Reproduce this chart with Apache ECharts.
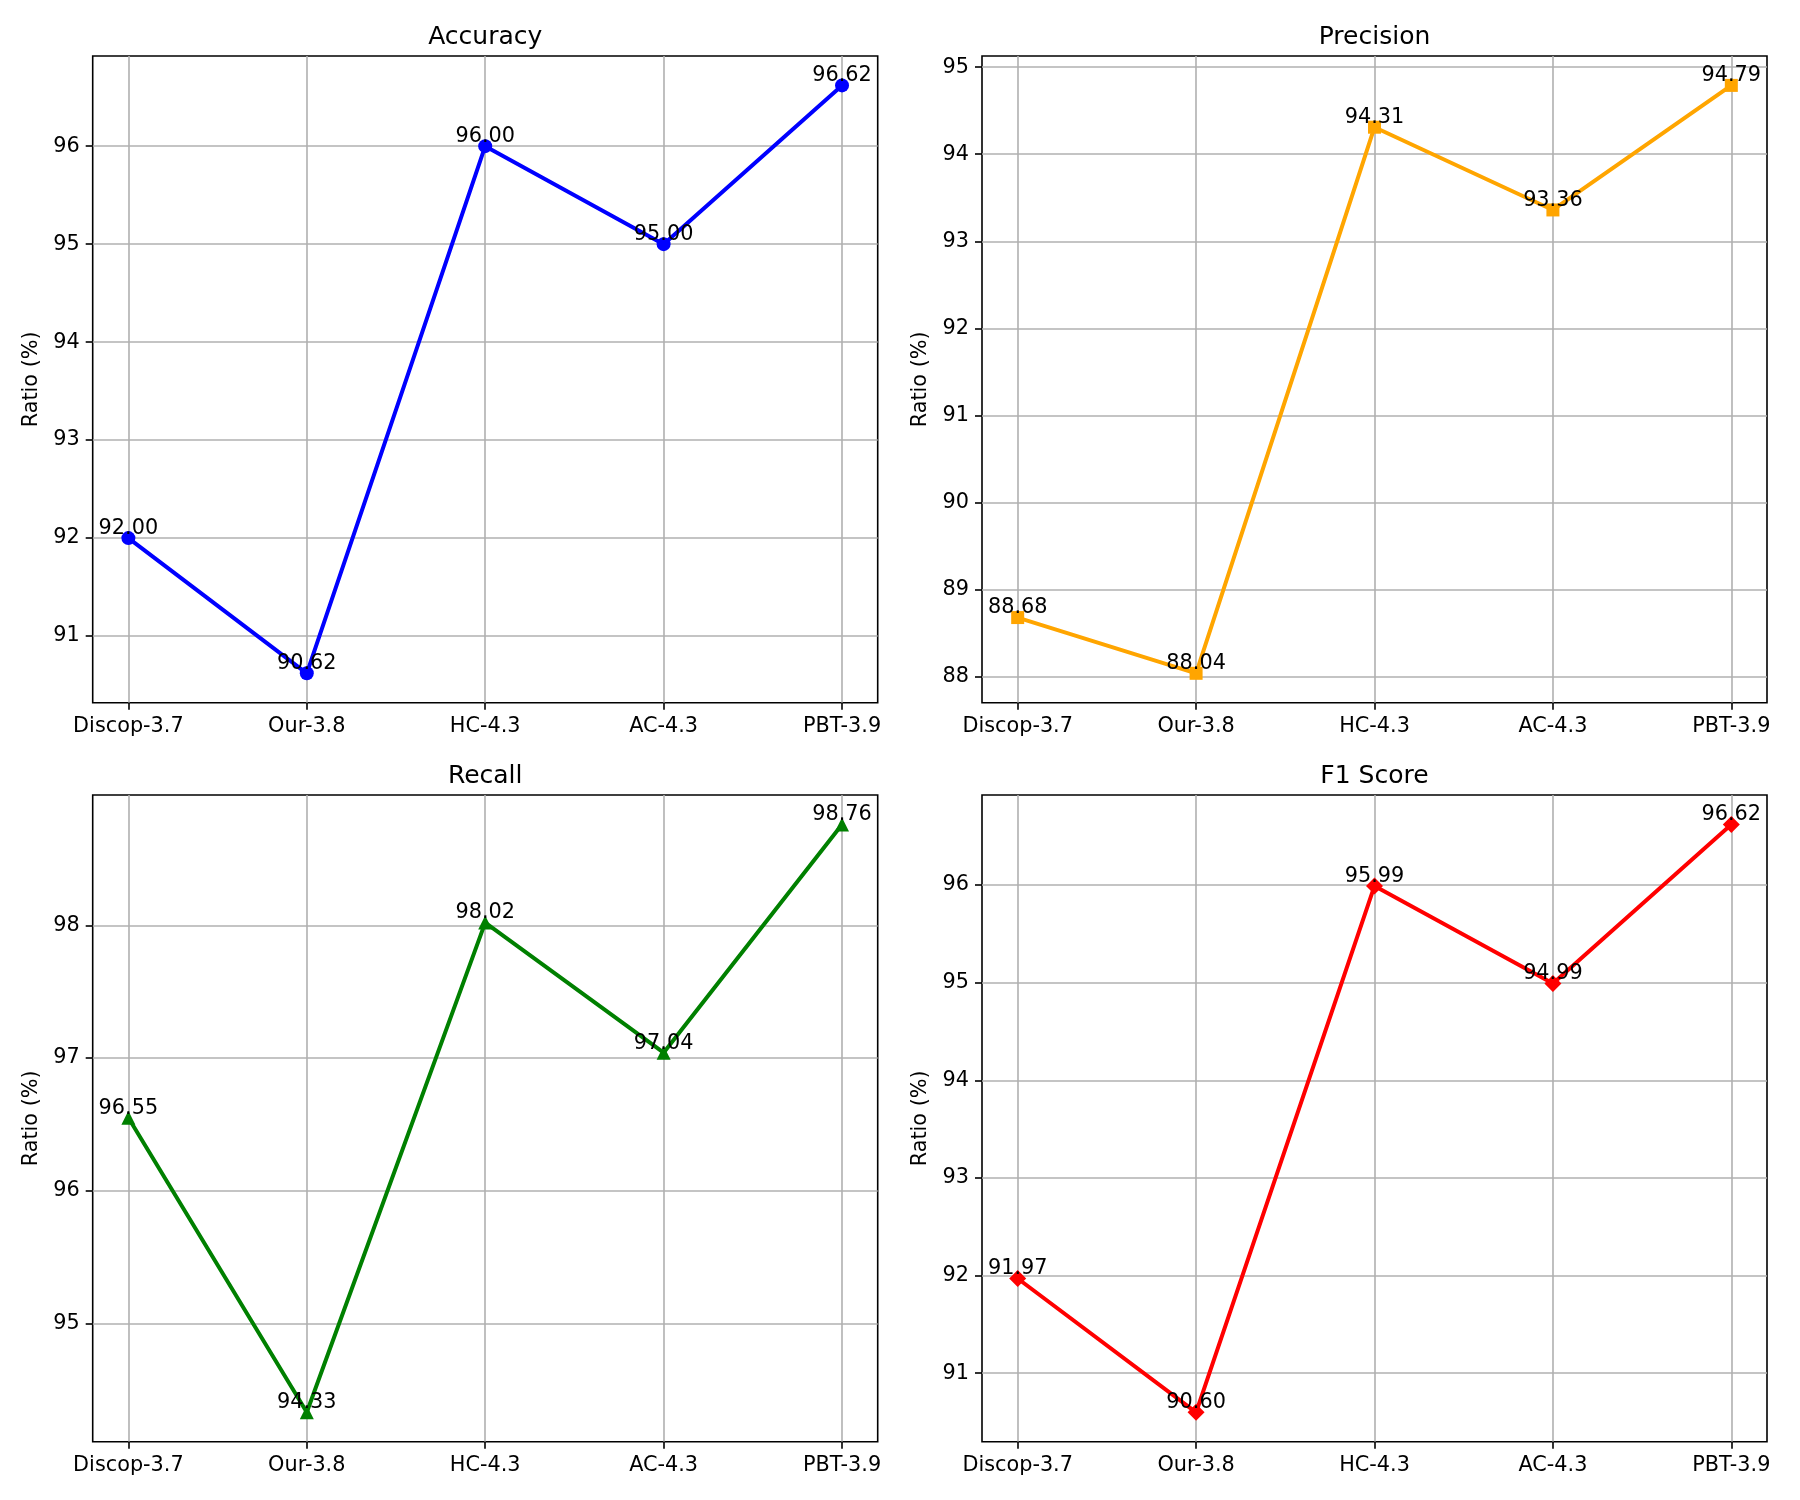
<!DOCTYPE html>
<html><head><meta charset="utf-8">
<script src="https://cdn.jsdelivr.net/npm/echarts@6/dist/echarts.min.js"></script>
<style>html,body{margin:0;padding:0;background:#fff}#c{width:1800px;height:1500px}</style>
</head><body><div id="c"></div>
<script>
const categories = ['Discop-3.7', 'Our-3.8', 'HC-4.3', 'AC-4.3', 'PBT-3.9'];
const accuracy = [92.00, 90.62, 96.00, 95.00, 96.62];
const precision = [88.68, 88.04, 94.31, 93.36, 94.79];
const recall = [96.55, 94.33, 98.02, 97.04, 98.76];
const f1Score = [91.97, 90.60, 95.99, 94.99, 96.62];
const titles = ['Accuracy', 'Precision', 'Recall', 'F1 Score'];
const accuracyTicks = [91, 92, 93, 94, 95, 96];
const precisionTicks = [88, 89, 90, 91, 92, 93, 94, 95];
const recallTicks = [95, 96, 97, 98];
const f1Ticks = [91, 92, 93, 94, 95, 96];
const yLabel = 'Ratio (%)';

const FONT = 'DejaVu Sans';
const panels = [
  { title: titles[0], data: accuracy, ticks: accuracyTicks, color: '#0000ff', symbol: 'circle', size: 14 },
  { title: titles[1], data: precision, ticks: precisionTicks, color: '#ffa500', symbol: 'rect', size: 13 },
  { title: titles[2], data: recall, ticks: recallTicks, color: '#008000', symbol: 'triangle', size: 14 },
  { title: titles[3], data: f1Score, ticks: f1Ticks, color: '#ff0000', symbol: 'diamond', size: 17 }
];
const boxes = [[92.7, 56], [982, 56], [92.7, 795], [982, 795]];
const W = 785, H = 646.7;
const catIdx = categories.map((c, i) => i);

const option = { animation: false, backgroundColor: '#fff', title: [], grid: [], xAxis: [], yAxis: [], series: [] };

panels.forEach((p, i) => {
  const [gx, gy] = boxes[i];
  const lo = Math.min(...p.data), hi = Math.max(...p.data);
  const m = (hi - lo) * 0.05;
  option.title.push({
    text: p.title, left: gx + W / 2, top: gy - 31, textAlign: 'center', padding: 0,
    textStyle: { fontFamily: FONT, fontSize: 25, fontWeight: 'normal', color: '#000' }
  });
  option.grid.push({
    left: gx, top: gy, width: W, height: H, show: true,
    borderColor: '#000', borderWidth: 1.6, backgroundColor: 'transparent'
  });
  option.xAxis.push({
    type: 'value', gridIndex: i, min: -0.2, max: 4.2,
    axisLine: { show: false, onZero: false },
    axisTick: { show: true, inside: false, customValues: catIdx, length: 7, lineStyle: { color: '#000', width: 1.6 } },
    axisLabel: { customValues: catIdx, formatter: v => categories[Math.round(v)], fontFamily: FONT, fontSize: 20.8, color: '#000', margin: 13 },
    splitLine: { show: true, lineStyle: { color: '#b0b0b0', width: 1.6 } }
  });
  option.yAxis.push({
    type: 'value', gridIndex: i, min: lo - m, max: hi + m,
    name: yLabel, nameLocation: 'middle', nameGap: 51,
    nameTextStyle: { fontFamily: FONT, fontSize: 20.8, color: '#000' },
    axisLine: { show: false, onZero: false },
    axisTick: { show: true, inside: false, customValues: p.ticks, length: 7, lineStyle: { color: '#000', width: 1.6 } },
    axisLabel: { customValues: p.ticks, formatter: v => String(Math.round(v)), fontFamily: FONT, fontSize: 20.8, color: '#000', margin: 13 },
    splitLine: { show: true, lineStyle: { color: '#b0b0b0', width: 1.6 } }
  });
  option.series.push({
    type: 'line', xAxisIndex: i, yAxisIndex: i,
    data: p.data.map((v, j) => [catIdx[j], v]),
    symbol: p.symbol, symbolSize: p.size, showAllSymbol: true,
    itemStyle: { color: p.color },
    lineStyle: { color: p.color, width: 4 },
    label: {
      show: true, position: 'top', distance: -p.size / 2 - 1,
      formatter: q => q.value[1].toFixed(2),
      fontFamily: FONT, fontSize: 20.8, color: '#000'
    },
    emphasis: { disabled: true }
  });
});

const chart = echarts.init(document.getElementById('c'), null, { renderer: 'canvas' });
chart.setOption(option);
</script>
</body></html>
